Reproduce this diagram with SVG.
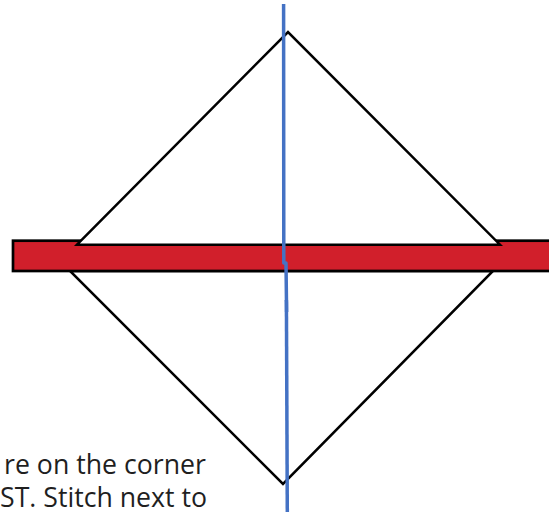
<svg xmlns="http://www.w3.org/2000/svg" width="549" height="514" viewBox="0 0 549 514">
  <style>
    .tri { fill: #ffffff; stroke: #000000; stroke-width: 2.5; stroke-linejoin: miter; }
    .band { fill: #D11F2B; stroke: #000000; stroke-width: 2.7; }
    .fold { fill: none; stroke: #4472C4; stroke-width: 3.5; stroke-linejoin: round; }
    .caption { font-family: "Open Sans", "Noto Sans", sans-serif; font-size: 27px; fill: #1f1f1f; }
  </style>
  <rect width="549" height="514" fill="#ffffff"/>
  <g id="bottom-triangle">
    <polygon class="tri" points="70,271 493,271 283,484"/>
  </g>
  <g id="red-strip">
    <rect class="band" x="13" y="240.7" width="560" height="30.3"/>
  </g>
  <g id="top-triangle">
    <polygon class="tri" points="77,244.7 288,32 500,244.7"/>
  </g>
  <g id="connectors">
    <polyline class="fold" points="283.6,4 283.8,263 286,263 286.6,312"/>
    <polyline class="fold" points="286.4,300 287.3,512"/>
  </g>
  <g id="caption">
    <text class="caption" x="4" y="474" textLength="202" lengthAdjust="spacingAndGlyphs">re on the corner</text>
    <text class="caption" x="0" y="507" textLength="207" lengthAdjust="spacingAndGlyphs">ST. Stitch next to</text>
  </g>
</svg>
